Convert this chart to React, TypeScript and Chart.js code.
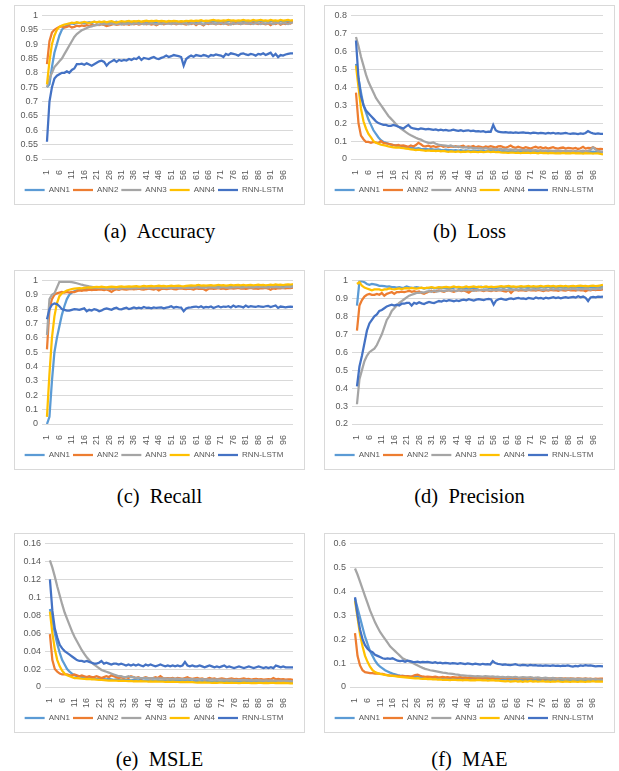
import React, { useEffect, useRef } from "react";
import { Chart, registerables } from "chart.js";

Chart.register(...registerables);

const epochs = [
  1, 2, 3, 4, 5, 6, 7, 8, 9, 10, 11, 12, 13, 14, 15, 16, 17, 18, 19, 20,
  21, 22, 23, 24, 25, 26, 27, 28, 29, 30, 31, 32, 33, 34, 35, 36, 37, 38, 39, 40,
  41, 42, 43, 44, 45, 46, 47, 48, 49, 50, 51, 52, 53, 54, 55, 56, 57, 58, 59, 60,
  61, 62, 63, 64, 65, 66, 67, 68, 69, 70, 71, 72, 73, 74, 75, 76, 77, 78, 79, 80,
  81, 82, 83, 84, 85, 86, 87, 88, 89, 90, 91, 92, 93, 94, 95, 96, 97, 98, 99, 100,
];
const xTickLabels = [1, 6, 11, 16, 21, 26, 31, 36, 41, 46, 51, 56, 61, 66, 71, 76, 81, 86, 91, 96];
const seriesNames = ["ANN1", "ANN2", "ANN3", "ANN4", "RNN-LSTM"];
const seriesColors = ["#5B9BD5", "#ED7D31", "#A5A5A5", "#FFC000", "#4472C4"];

const accTicks = [0.5, 0.55, 0.6, 0.65, 0.7, 0.75, 0.8, 0.85, 0.9, 0.95, 1];
const lossTicks = [0, 0.1, 0.2, 0.3, 0.4, 0.5, 0.6, 0.7, 0.8];
const recallTicks = [0, 0.1, 0.2, 0.3, 0.4, 0.5, 0.6, 0.7, 0.8, 0.9, 1];
const precTicks = [0.2, 0.3, 0.4, 0.5, 0.6, 0.7, 0.8, 0.9, 1];
const msleTicks = [0, 0.02, 0.04, 0.06, 0.08, 0.1, 0.12, 0.14, 0.16];
const maeTicks = [0, 0.1, 0.2, 0.3, 0.4, 0.5, 0.6];

// (a) Accuracy
const accANN1 = [
  0.75,0.76,0.82,0.87,0.90,0.93,0.95,0.96,0.965,0.97,
  0.972,0.97,0.975,0.973,0.975,0.972,0.974,0.976,0.973,0.978,
  0.975,0.977,0.974,0.976,0.975,0.973,0.977,0.976,0.978,0.974,
  0.977,0.975,0.978,0.976,0.977,0.975,0.978,0.977,0.976,0.979,
  0.977,0.978,0.976,0.978,0.977,0.979,0.976,0.978,0.977,0.979,
  0.978,0.976,0.979,0.977,0.978,0.976,0.979,0.977,0.978,0.98,
  0.977,0.979,0.978,0.98,0.977,0.979,0.978,0.98,0.978,0.979,
  0.977,0.98,0.978,0.979,0.981,0.978,0.98,0.979,0.978,0.98,
  0.979,0.98,0.978,0.981,0.979,0.98,0.982,0.979,0.98,0.978,
  0.981,0.979,0.98,0.978,0.981,0.979,0.98,0.977,0.979,0.98,
];
const accANN2 = [
  0.83,0.91,0.94,0.95,0.955,0.96,0.962,0.958,0.96,0.963,
  0.958,0.96,0.964,0.962,0.965,0.963,0.966,0.964,0.967,0.965,
  0.968,0.966,0.969,0.967,0.963,0.965,0.968,0.97,0.967,0.969,
  0.971,0.968,0.97,0.967,0.972,0.969,0.971,0.968,0.97,0.972,
  0.969,0.971,0.968,0.97,0.966,0.97,0.972,0.969,0.971,0.973,
  0.97,0.972,0.969,0.971,0.973,0.97,0.968,0.972,0.97,0.973,
  0.966,0.972,0.97,0.965,0.972,0.97,0.973,0.971,0.969,0.972,
  0.97,0.973,0.971,0.968,0.972,0.97,0.974,0.971,0.97,0.973,
  0.971,0.972,0.97,0.974,0.972,0.97,0.973,0.971,0.969,0.972,
  0.966,0.972,0.97,0.974,0.968,0.972,0.97,0.974,0.972,0.978,
];
const accANN3 = [
  0.75,0.78,0.80,0.82,0.83,0.84,0.85,0.865,0.88,0.895,
  0.91,0.925,0.935,0.942,0.948,0.952,0.956,0.96,0.962,0.965,
  0.966,0.968,0.97,0.969,0.971,0.968,0.972,0.97,0.969,0.972,
  0.968,0.971,0.97,0.972,0.969,0.971,0.973,0.97,0.972,0.969,
  0.972,0.97,0.973,0.971,0.969,0.972,0.97,0.973,0.971,0.972,
  0.97,0.973,0.971,0.972,0.97,0.973,0.971,0.969,0.972,0.974,
  0.97,0.973,0.971,0.968,0.972,0.974,0.971,0.973,0.97,0.972,
  0.974,0.97,0.973,0.971,0.968,0.973,0.971,0.974,0.97,0.972,
  0.974,0.971,0.973,0.97,0.974,0.972,0.97,0.973,0.971,0.974,
  0.972,0.97,0.973,0.975,0.971,0.974,0.972,0.97,0.974,0.976,
];
const accANN4 = [
  0.76,0.84,0.90,0.93,0.95,0.96,0.965,0.968,0.97,0.972,
  0.975,0.973,0.976,0.974,0.975,0.977,0.975,0.974,0.976,0.978,
  0.976,0.978,0.977,0.979,0.976,0.978,0.98,0.977,0.975,0.978,
  0.98,0.978,0.979,0.981,0.978,0.98,0.979,0.981,0.978,0.98,
  0.982,0.979,0.981,0.98,0.982,0.979,0.981,0.98,0.978,0.981,
  0.979,0.981,0.98,0.978,0.98,0.979,0.981,0.98,0.982,0.98,
  0.982,0.981,0.983,0.98,0.982,0.981,0.983,0.984,0.982,0.983,
  0.981,0.983,0.982,0.984,0.982,0.983,0.981,0.983,0.982,0.984,
  0.982,0.983,0.981,0.984,0.982,0.983,0.984,0.982,0.983,0.981,
  0.984,0.982,0.983,0.981,0.984,0.982,0.983,0.984,0.982,0.984,
];
const accRNN = [
  0.56,0.70,0.75,0.78,0.79,0.795,0.80,0.80,0.805,0.80,
  0.81,0.815,0.83,0.83,0.832,0.828,0.833,0.829,0.825,0.83,
  0.835,0.84,0.842,0.838,0.825,0.835,0.84,0.845,0.838,0.845,
  0.842,0.845,0.843,0.848,0.845,0.85,0.848,0.855,0.845,0.852,
  0.85,0.848,0.852,0.855,0.85,0.848,0.852,0.855,0.86,0.855,
  0.858,0.862,0.86,0.858,0.855,0.825,0.848,0.855,0.86,0.856,
  0.862,0.86,0.858,0.862,0.86,0.856,0.862,0.86,0.864,0.862,
  0.86,0.855,0.866,0.862,0.868,0.866,0.864,0.86,0.866,0.868,
  0.864,0.862,0.866,0.864,0.86,0.866,0.864,0.868,0.862,0.866,
  0.87,0.858,0.866,0.855,0.862,0.86,0.864,0.866,0.868,0.868,
];

// (b) Loss
const lossANN1 = [
  0.53,0.45,0.37,0.30,0.26,0.22,0.19,0.16,0.14,0.12,
  0.105,0.095,0.09,0.085,0.08,0.078,0.075,0.072,0.07,0.068,
  0.066,0.064,0.062,0.06,0.058,0.06,0.057,0.055,0.056,0.054,
  0.055,0.053,0.052,0.054,0.051,0.05,0.052,0.049,0.05,0.048,
  0.05,0.047,0.049,0.046,0.048,0.047,0.045,0.047,0.046,0.044,
  0.046,0.045,0.043,0.045,0.044,0.046,0.043,0.045,0.042,0.044,
  0.043,0.041,0.044,0.042,0.04,0.043,0.041,0.042,0.04,0.043,
  0.041,0.04,0.042,0.039,0.041,0.04,0.042,0.038,0.04,0.041,
  0.039,0.04,0.038,0.041,0.039,0.037,0.04,0.038,0.04,0.039,
  0.041,0.038,0.04,0.037,0.039,0.041,0.038,0.04,0.039,0.04,
];
const lossANN2 = [
  0.37,0.20,0.13,0.11,0.095,0.095,0.09,0.095,0.092,0.088,
  0.10,0.09,0.087,0.085,0.082,0.078,0.076,0.078,0.074,0.076,
  0.072,0.068,0.075,0.07,0.078,0.09,0.082,0.072,0.07,0.074,
  0.068,0.072,0.066,0.07,0.075,0.068,0.072,0.066,0.07,0.068,
  0.072,0.066,0.07,0.074,0.066,0.07,0.068,0.072,0.065,0.07,
  0.068,0.064,0.07,0.066,0.072,0.068,0.064,0.07,0.072,0.066,
  0.062,0.068,0.075,0.066,0.062,0.068,0.064,0.06,0.066,0.062,
  0.058,0.064,0.068,0.062,0.066,0.06,0.064,0.058,0.062,0.066,
  0.06,0.058,0.062,0.064,0.058,0.062,0.06,0.058,0.062,0.056,
  0.06,0.068,0.058,0.062,0.06,0.066,0.058,0.055,0.056,0.055,
];
const lossANN3 = [
  0.68,0.63,0.57,0.52,0.47,0.43,0.40,0.37,0.34,0.32,
  0.30,0.28,0.26,0.24,0.225,0.21,0.195,0.18,0.17,0.16,
  0.15,0.14,0.132,0.125,0.118,0.112,0.108,0.10,0.095,0.09,
  0.088,0.092,0.085,0.08,0.078,0.076,0.074,0.072,0.075,0.07,
  0.068,0.07,0.066,0.064,0.066,0.062,0.064,0.06,0.062,0.058,
  0.06,0.057,0.06,0.056,0.058,0.055,0.057,0.054,0.056,0.053,
  0.055,0.052,0.054,0.051,0.053,0.05,0.052,0.05,0.051,0.049,
  0.05,0.048,0.05,0.047,0.049,0.046,0.048,0.046,0.047,0.045,
  0.047,0.045,0.046,0.044,0.046,0.044,0.045,0.043,0.045,0.043,
  0.044,0.046,0.043,0.045,0.05,0.065,0.052,0.045,0.042,0.04,
];
const lossANN4 = [
  0.52,0.40,0.28,0.21,0.17,0.14,0.12,0.10,0.09,0.085,
  0.08,0.077,0.074,0.07,0.067,0.065,0.063,0.065,0.062,0.06,
  0.058,0.056,0.054,0.052,0.05,0.052,0.05,0.048,0.046,0.048,
  0.045,0.047,0.044,0.046,0.043,0.045,0.042,0.04,0.043,0.041,
  0.04,0.042,0.039,0.041,0.04,0.042,0.039,0.041,0.04,0.038,
  0.041,0.039,0.04,0.042,0.039,0.041,0.038,0.04,0.037,0.035,
  0.036,0.034,0.036,0.035,0.034,0.036,0.033,0.035,0.034,0.036,
  0.033,0.035,0.034,0.032,0.035,0.033,0.034,0.032,0.034,0.033,
  0.031,0.033,0.032,0.034,0.031,0.033,0.032,0.034,0.031,0.033,
  0.032,0.03,0.033,0.031,0.032,0.03,0.032,0.031,0.028,0.025,
];
const lossRNN = [
  0.66,0.45,0.35,0.30,0.27,0.255,0.24,0.225,0.21,0.20,
  0.195,0.19,0.19,0.185,0.185,0.19,0.185,0.18,0.175,0.17,
  0.18,0.19,0.175,0.17,0.168,0.165,0.17,0.168,0.165,0.168,
  0.165,0.162,0.165,0.16,0.163,0.16,0.162,0.158,0.16,0.163,
  0.16,0.157,0.16,0.155,0.158,0.16,0.155,0.158,0.154,0.155,
  0.152,0.155,0.15,0.153,0.152,0.19,0.16,0.152,0.15,0.148,
  0.15,0.147,0.148,0.146,0.148,0.145,0.147,0.148,0.145,0.146,
  0.143,0.147,0.145,0.143,0.146,0.144,0.142,0.145,0.143,0.146,
  0.142,0.144,0.141,0.143,0.145,0.142,0.14,0.143,0.141,0.139,
  0.142,0.14,0.145,0.155,0.148,0.143,0.14,0.142,0.14,0.14,
];

// (c) Recall
const recANN1 = [
  0.0,0.05,0.30,0.50,0.60,0.68,0.76,0.82,0.87,0.90,
  0.915,0.925,0.93,0.935,0.938,0.94,0.942,0.94,0.944,0.942,
  0.945,0.943,0.946,0.944,0.947,0.945,0.948,0.946,0.944,0.948,
  0.946,0.95,0.948,0.951,0.949,0.952,0.95,0.953,0.951,0.955,
  0.952,0.954,0.951,0.953,0.955,0.952,0.954,0.956,0.953,0.955,
  0.957,0.954,0.956,0.953,0.955,0.952,0.956,0.958,0.955,0.957,
  0.959,0.956,0.958,0.955,0.957,0.959,0.956,0.958,0.96,0.957,
  0.959,0.956,0.958,0.96,0.957,0.959,0.961,0.958,0.96,0.957,
  0.959,0.961,0.958,0.96,0.962,0.959,0.961,0.958,0.96,0.962,
  0.959,0.961,0.958,0.962,0.96,0.958,0.961,0.963,0.96,0.962,
];
const recANN2 = [
  0.52,0.80,0.87,0.90,0.91,0.915,0.92,0.915,0.92,0.915,
  0.92,0.918,0.925,0.93,0.928,0.932,0.93,0.935,0.933,0.936,
  0.934,0.937,0.935,0.933,0.937,0.93,0.92,0.932,0.938,0.935,
  0.94,0.937,0.935,0.939,0.941,0.937,0.94,0.942,0.938,0.936,
  0.94,0.942,0.939,0.936,0.942,0.93,0.94,0.943,0.939,0.941,
  0.944,0.94,0.938,0.942,0.945,0.941,0.939,0.943,0.94,0.936,
  0.944,0.941,0.943,0.94,0.93,0.942,0.945,0.941,0.943,0.946,
  0.942,0.945,0.94,0.943,0.946,0.942,0.944,0.947,0.943,0.945,
  0.941,0.944,0.947,0.943,0.945,0.942,0.946,0.944,0.947,0.943,
  0.935,0.945,0.942,0.946,0.944,0.947,0.945,0.948,0.946,0.95,
];
const recANN3 = [
  0.62,0.87,0.90,0.91,0.95,0.99,0.99,0.99,0.99,0.99,
  0.988,0.985,0.98,0.975,0.97,0.966,0.962,0.958,0.955,0.952,
  0.95,0.948,0.946,0.944,0.942,0.944,0.94,0.943,0.946,0.942,
  0.945,0.948,0.944,0.946,0.943,0.947,0.945,0.948,0.944,0.946,
  0.949,0.945,0.947,0.95,0.946,0.948,0.951,0.947,0.949,0.946,
  0.95,0.948,0.951,0.947,0.949,0.952,0.948,0.95,0.947,0.951,
  0.953,0.949,0.951,0.948,0.952,0.95,0.953,0.949,0.951,0.948,
  0.952,0.954,0.95,0.952,0.949,0.953,0.951,0.954,0.95,0.952,
  0.955,0.951,0.953,0.95,0.954,0.952,0.955,0.951,0.953,0.95,
  0.954,0.952,0.955,0.951,0.953,0.949,0.954,0.956,0.952,0.958,
];
const recANN4 = [
  0.05,0.35,0.60,0.75,0.84,0.89,0.91,0.92,0.93,0.935,
  0.94,0.943,0.945,0.947,0.945,0.948,0.95,0.952,0.95,0.953,
  0.955,0.953,0.956,0.954,0.952,0.955,0.957,0.955,0.953,0.956,
  0.958,0.955,0.957,0.959,0.956,0.958,0.96,0.957,0.959,0.962,
  0.958,0.96,0.962,0.959,0.961,0.963,0.96,0.962,0.959,0.961,
  0.963,0.96,0.962,0.964,0.961,0.959,0.962,0.964,0.966,0.963,
  0.965,0.968,0.964,0.966,0.963,0.965,0.967,0.964,0.966,0.968,
  0.965,0.967,0.964,0.966,0.968,0.965,0.967,0.969,0.966,0.968,
  0.965,0.967,0.969,0.966,0.968,0.97,0.967,0.969,0.966,0.968,
  0.97,0.967,0.972,0.969,0.971,0.968,0.97,0.972,0.97,0.975,
];
const recRNN = [
  0.73,0.80,0.83,0.84,0.835,0.82,0.80,0.795,0.79,0.79,
  0.795,0.80,0.798,0.795,0.80,0.805,0.785,0.795,0.79,0.80,
  0.795,0.785,0.79,0.80,0.805,0.80,0.795,0.805,0.81,0.80,
  0.798,0.805,0.81,0.80,0.805,0.812,0.805,0.81,0.806,0.815,
  0.808,0.81,0.805,0.812,0.808,0.81,0.812,0.806,0.81,0.814,
  0.82,0.81,0.815,0.812,0.81,0.785,0.805,0.81,0.812,0.815,
  0.818,0.812,0.82,0.81,0.816,0.812,0.818,0.808,0.815,0.82,
  0.812,0.818,0.815,0.82,0.812,0.825,0.815,0.82,0.818,0.812,
  0.825,0.815,0.82,0.818,0.815,0.82,0.818,0.815,0.82,0.822,
  0.815,0.82,0.825,0.808,0.818,0.815,0.812,0.815,0.818,0.815,
];

// (d) Precision
const precANN1 = [
  0.86,0.995,0.995,0.99,0.98,0.975,0.98,0.978,0.975,0.97,
  0.97,0.968,0.965,0.966,0.963,0.962,0.96,0.962,0.958,0.96,
  0.966,0.962,0.958,0.96,0.963,0.96,0.958,0.955,0.958,0.956,
  0.96,0.957,0.955,0.958,0.96,0.957,0.955,0.958,0.956,0.96,
  0.962,0.958,0.956,0.96,0.957,0.955,0.958,0.96,0.957,0.962,
  0.965,0.96,0.962,0.958,0.96,0.956,0.958,0.96,0.962,0.958,
  0.965,0.96,0.958,0.962,0.96,0.963,0.959,0.962,0.96,0.958,
  0.962,0.96,0.958,0.962,0.964,0.96,0.962,0.965,0.96,0.962,
  0.964,0.96,0.962,0.958,0.96,0.965,0.962,0.96,0.963,0.96,
  0.962,0.958,0.96,0.963,0.96,0.962,0.958,0.96,0.962,0.965,
];
const precANN2 = [
  0.72,0.86,0.89,0.91,0.92,0.925,0.92,0.92,0.925,0.92,
  0.93,0.915,0.925,0.93,0.935,0.925,0.935,0.935,0.937,0.935,
  0.938,0.942,0.936,0.94,0.935,0.938,0.93,0.925,0.932,0.938,
  0.942,0.935,0.94,0.944,0.94,0.936,0.942,0.945,0.94,0.936,
  0.942,0.946,0.94,0.944,0.938,0.932,0.942,0.946,0.943,0.947,
  0.944,0.941,0.946,0.943,0.94,0.945,0.942,0.946,0.944,0.94,
  0.938,0.945,0.93,0.944,0.947,0.943,0.946,0.944,0.942,0.947,
  0.944,0.946,0.943,0.947,0.944,0.941,0.946,0.943,0.947,0.944,
  0.946,0.942,0.947,0.945,0.943,0.948,0.944,0.946,0.943,0.947,
  0.944,0.946,0.94,0.947,0.945,0.948,0.946,0.949,0.947,0.95,
];
const precANN3 = [
  0.31,0.45,0.50,0.55,0.58,0.60,0.61,0.62,0.64,0.67,
  0.70,0.74,0.78,0.80,0.83,0.845,0.86,0.875,0.885,0.895,
  0.905,0.915,0.92,0.925,0.93,0.93,0.935,0.932,0.938,0.94,
  0.936,0.942,0.938,0.94,0.944,0.94,0.943,0.946,0.942,0.945,
  0.941,0.946,0.943,0.947,0.944,0.948,0.945,0.942,0.947,0.944,
  0.948,0.945,0.949,0.946,0.944,0.948,0.945,0.949,0.946,0.95,
  0.947,0.944,0.949,0.946,0.95,0.947,0.951,0.948,0.945,0.95,
  0.947,0.951,0.948,0.952,0.949,0.946,0.951,0.948,0.952,0.949,
  0.953,0.95,0.947,0.952,0.949,0.953,0.95,0.954,0.951,0.948,
  0.953,0.95,0.954,0.951,0.948,0.953,0.95,0.955,0.952,0.96,
];
const precANN4 = [
  0.98,0.99,0.97,0.96,0.955,0.95,0.945,0.95,0.95,0.95,
  0.945,0.95,0.95,0.955,0.952,0.95,0.953,0.955,0.952,0.955,
  0.957,0.955,0.958,0.956,0.954,0.957,0.959,0.956,0.958,0.96,
  0.962,0.958,0.96,0.963,0.96,0.962,0.964,0.961,0.963,0.966,
  0.962,0.964,0.961,0.963,0.966,0.962,0.964,0.966,0.963,0.965,
  0.962,0.964,0.967,0.963,0.965,0.962,0.964,0.966,0.968,0.965,
  0.967,0.969,0.965,0.967,0.964,0.966,0.968,0.965,0.967,0.969,
  0.966,0.968,0.965,0.967,0.969,0.966,0.968,0.97,0.967,0.969,
  0.966,0.968,0.97,0.967,0.969,0.966,0.968,0.97,0.967,0.969,
  0.971,0.968,0.97,0.967,0.969,0.971,0.968,0.97,0.972,0.975,
];
const precRNN = [
  0.41,0.52,0.58,0.65,0.72,0.76,0.78,0.80,0.81,0.83,
  0.835,0.845,0.855,0.86,0.865,0.86,0.865,0.86,0.87,0.87,
  0.875,0.875,0.86,0.875,0.87,0.878,0.872,0.868,0.875,0.88,
  0.876,0.874,0.88,0.885,0.882,0.888,0.885,0.89,0.887,0.884,
  0.888,0.885,0.89,0.893,0.889,0.895,0.891,0.888,0.893,0.896,
  0.893,0.89,0.895,0.897,0.894,0.865,0.888,0.895,0.898,0.894,
  0.892,0.897,0.9,0.896,0.9,0.902,0.898,0.9,0.896,0.902,
  0.9,0.897,0.905,0.9,0.903,0.898,0.904,0.9,0.903,0.906,
  0.902,0.905,0.9,0.904,0.907,0.903,0.906,0.908,0.904,0.912,
  0.906,0.91,0.903,0.885,0.905,0.908,0.906,0.91,0.908,0.91,
];

// (e) MSLE
const msleANN1 = [
  0.087,0.075,0.06,0.048,0.038,0.03,0.025,0.02,0.017,0.015,
  0.013,0.012,0.012,0.011,0.011,0.01,0.01,0.01,0.0095,0.009,
  0.009,0.009,0.0088,0.0085,0.009,0.0085,0.008,0.0085,0.008,0.0082,
  0.008,0.0078,0.008,0.0075,0.0078,0.0076,0.0074,0.0078,0.0072,0.0075,
  0.0073,0.007,0.0074,0.0071,0.0073,0.0069,0.0072,0.007,0.0068,0.0071,
  0.0069,0.0066,0.007,0.0067,0.0069,0.0065,0.0068,0.0066,0.0064,0.0067,
  0.0065,0.0063,0.0066,0.0062,0.0065,0.0063,0.0061,0.0064,0.0062,0.006,
  0.0063,0.0061,0.0059,0.0062,0.006,0.0058,0.0061,0.0059,0.0057,0.006,
  0.0058,0.0056,0.0059,0.0055,0.0058,0.0054,0.0057,0.0055,0.0058,0.0056,
  0.0054,0.0057,0.0055,0.0058,0.0056,0.0054,0.0057,0.0055,0.0058,0.006,
];
const msleANN2 = [
  0.059,0.03,0.02,0.017,0.015,0.014,0.014,0.014,0.013,0.013,
  0.014,0.013,0.012,0.013,0.012,0.011,0.012,0.011,0.011,0.012,
  0.011,0.01,0.011,0.012,0.011,0.013,0.012,0.011,0.01,0.011,
  0.01,0.011,0.01,0.012,0.011,0.01,0.011,0.0095,0.01,0.011,
  0.01,0.0095,0.01,0.011,0.01,0.012,0.01,0.0095,0.01,0.0095,
  0.01,0.009,0.01,0.0095,0.009,0.01,0.011,0.0095,0.009,0.0095,
  0.01,0.009,0.0095,0.0085,0.009,0.01,0.009,0.0095,0.0085,0.009,
  0.0095,0.009,0.0085,0.009,0.0095,0.0088,0.009,0.0085,0.009,0.0095,
  0.0088,0.009,0.0082,0.0088,0.009,0.0085,0.0088,0.0082,0.0086,0.0088,
  0.0084,0.01,0.0086,0.009,0.0084,0.0088,0.0082,0.0086,0.0084,0.008,
];
const msleANN3 = [
  0.141,0.133,0.123,0.112,0.102,0.092,0.083,0.076,0.069,0.062,
  0.056,0.051,0.046,0.041,0.037,0.033,0.03,0.027,0.025,0.023,
  0.021,0.019,0.018,0.017,0.016,0.015,0.014,0.013,0.012,0.012,
  0.011,0.011,0.012,0.011,0.011,0.01,0.0105,0.01,0.0098,0.0102,
  0.0098,0.0095,0.0098,0.0094,0.0096,0.0093,0.0095,0.0092,0.0094,0.009,
  0.0093,0.009,0.0092,0.0089,0.0091,0.0088,0.009,0.0087,0.0089,0.0086,
  0.0088,0.0085,0.0087,0.0084,0.0086,0.0083,0.0085,0.0082,0.0084,0.0081,
  0.0083,0.008,0.0082,0.0079,0.0081,0.0078,0.008,0.0077,0.0079,0.0076,
  0.0078,0.0075,0.0077,0.0074,0.0076,0.0073,0.0075,0.0072,0.0074,0.0071,
  0.0073,0.007,0.0072,0.0069,0.0071,0.0068,0.007,0.0067,0.0065,0.0063,
];
const msleANN4 = [
  0.084,0.06,0.042,0.03,0.023,0.018,0.015,0.013,0.012,0.011,
  0.01,0.01,0.0095,0.0092,0.009,0.0088,0.009,0.0086,0.0084,0.0082,
  0.008,0.0078,0.0076,0.0074,0.0072,0.0075,0.007,0.0072,0.0068,0.007,
  0.0067,0.0069,0.0065,0.0067,0.0064,0.0066,0.0063,0.0065,0.0062,0.0064,
  0.0061,0.0063,0.006,0.0062,0.0059,0.0061,0.006,0.0058,0.006,0.0057,
  0.0059,0.0056,0.0058,0.0055,0.0057,0.0054,0.0056,0.0053,0.0055,0.0052,
  0.005,0.0052,0.0049,0.0051,0.0048,0.005,0.0047,0.0049,0.0046,0.0048,
  0.005,0.0047,0.0049,0.0046,0.0048,0.0045,0.0047,0.0044,0.0046,0.0048,
  0.0045,0.0047,0.0044,0.0046,0.0043,0.0045,0.0047,0.0044,0.0046,0.0043,
  0.0045,0.0047,0.0044,0.0046,0.0043,0.0045,0.0042,0.0044,0.0041,0.004,
];
const msleRNN = [
  0.12,0.085,0.065,0.055,0.047,0.043,0.04,0.038,0.036,0.034,
  0.032,0.03,0.029,0.029,0.028,0.029,0.028,0.027,0.026,0.026,
  0.027,0.029,0.026,0.027,0.026,0.025,0.026,0.026,0.025,0.026,
  0.025,0.024,0.025,0.024,0.025,0.024,0.025,0.024,0.023,0.025,
  0.024,0.025,0.024,0.023,0.024,0.025,0.024,0.023,0.024,0.023,
  0.024,0.023,0.024,0.023,0.024,0.028,0.024,0.023,0.024,0.023,
  0.023,0.024,0.023,0.022,0.023,0.024,0.023,0.022,0.023,0.022,
  0.023,0.024,0.022,0.023,0.022,0.021,0.022,0.023,0.022,0.021,
  0.022,0.023,0.022,0.021,0.022,0.023,0.022,0.021,0.022,0.021,
  0.022,0.021,0.024,0.023,0.022,0.023,0.022,0.022,0.022,0.022,
];

// (f) MAE
const maeANN1 = [
  0.37,0.33,0.29,0.25,0.21,0.18,0.15,0.13,0.11,0.095,
  0.085,0.078,0.07,0.065,0.06,0.056,0.053,0.05,0.048,0.047,
  0.045,0.044,0.043,0.042,0.041,0.042,0.04,0.041,0.039,0.04,
  0.038,0.039,0.037,0.038,0.036,0.037,0.036,0.035,0.037,0.035,
  0.036,0.034,0.035,0.034,0.036,0.034,0.033,0.035,0.034,0.033,
  0.034,0.032,0.034,0.033,0.031,0.033,0.032,0.034,0.032,0.031,
  0.033,0.03,0.032,0.031,0.03,0.032,0.031,0.029,0.031,0.03,
  0.032,0.03,0.029,0.031,0.03,0.028,0.03,0.029,0.031,0.029,
  0.028,0.03,0.029,0.028,0.03,0.029,0.027,0.029,0.028,0.03,
  0.028,0.027,0.029,0.028,0.03,0.028,0.027,0.029,0.03,0.03,
];
const maeANN2 = [
  0.225,0.13,0.09,0.07,0.062,0.06,0.058,0.058,0.056,0.057,
  0.055,0.055,0.052,0.05,0.048,0.048,0.047,0.046,0.045,0.046,
  0.044,0.045,0.043,0.046,0.05,0.052,0.047,0.044,0.042,0.043,
  0.042,0.041,0.043,0.041,0.04,0.042,0.04,0.041,0.039,0.041,
  0.04,0.039,0.041,0.039,0.04,0.038,0.04,0.039,0.038,0.04,
  0.039,0.038,0.04,0.038,0.039,0.037,0.039,0.038,0.037,0.039,
  0.038,0.036,0.039,0.037,0.038,0.036,0.038,0.037,0.036,0.038,
  0.037,0.036,0.038,0.036,0.037,0.035,0.037,0.036,0.035,0.037,
  0.036,0.035,0.037,0.035,0.036,0.034,0.036,0.035,0.034,0.036,
  0.035,0.034,0.036,0.034,0.035,0.033,0.035,0.034,0.035,0.035,
];
const maeANN3 = [
  0.495,0.47,0.44,0.41,0.38,0.35,0.32,0.295,0.27,0.25,
  0.23,0.215,0.2,0.185,0.17,0.16,0.15,0.14,0.13,0.12,
  0.115,0.11,0.105,0.1,0.095,0.09,0.085,0.08,0.076,0.073,
  0.07,0.068,0.066,0.064,0.062,0.06,0.059,0.057,0.056,0.055,
  0.053,0.052,0.05,0.049,0.048,0.047,0.046,0.045,0.044,0.045,
  0.044,0.043,0.045,0.044,0.043,0.044,0.042,0.043,0.041,0.042,
  0.04,0.042,0.041,0.04,0.042,0.04,0.039,0.041,0.04,0.039,
  0.041,0.039,0.038,0.04,0.038,0.037,0.039,0.037,0.036,0.038,
  0.036,0.035,0.037,0.035,0.034,0.036,0.034,0.035,0.033,0.035,
  0.034,0.033,0.035,0.033,0.034,0.032,0.033,0.031,0.032,0.03,
];
const maeANN4 = [
  0.36,0.29,0.22,0.17,0.13,0.105,0.085,0.07,0.062,0.058,
  0.055,0.053,0.051,0.049,0.047,0.046,0.045,0.043,0.042,0.041,
  0.04,0.039,0.038,0.037,0.036,0.037,0.035,0.034,0.035,0.033,
  0.034,0.032,0.033,0.031,0.032,0.03,0.031,0.03,0.029,0.031,
  0.03,0.029,0.03,0.028,0.03,0.029,0.028,0.029,0.028,0.03,
  0.029,0.028,0.029,0.027,0.028,0.029,0.027,0.028,0.026,0.025,
  0.024,0.025,0.023,0.024,0.025,0.023,0.024,0.022,0.024,0.023,
  0.025,0.023,0.024,0.022,0.023,0.024,0.022,0.023,0.021,0.023,
  0.022,0.024,0.022,0.021,0.023,0.022,0.021,0.023,0.022,0.021,
  0.023,0.022,0.021,0.023,0.022,0.024,0.022,0.023,0.022,0.022,
];
const maeRNN = [
  0.375,0.3,0.24,0.2,0.175,0.16,0.15,0.145,0.135,0.13,
  0.125,0.12,0.118,0.12,0.118,0.12,0.115,0.11,0.108,0.11,
  0.105,0.11,0.108,0.105,0.104,0.106,0.103,0.105,0.104,0.105,
  0.103,0.101,0.104,0.1,0.102,0.099,0.101,0.1,0.098,0.1,
  0.099,0.097,0.1,0.098,0.096,0.099,0.097,0.095,0.098,0.096,
  0.094,0.097,0.095,0.096,0.094,0.108,0.1,0.097,0.095,0.093,
  0.094,0.092,0.091,0.093,0.095,0.092,0.09,0.092,0.091,0.089,
  0.092,0.09,0.091,0.089,0.09,0.088,0.09,0.089,0.088,0.09,
  0.088,0.089,0.087,0.089,0.088,0.09,0.087,0.085,0.088,0.086,
  0.09,0.088,0.091,0.089,0.09,0.088,0.086,0.087,0.087,0.086,
];

type PanelSpec = {
  caption: string;
  series: number[][];
  yTicks: number[];
  left: number;
  top: number;
  plotLeft: number;
};

const panels: PanelSpec[] = [
  { caption: "(a)\u00a0\u00a0Accuracy", series: [accANN1, accANN2, accANN3, accANN4, accRNN], yTicks: accTicks, left: 14, top: 5, plotLeft: 27 },
  { caption: "(b)\u00a0\u00a0Loss", series: [lossANN1, lossANN2, lossANN3, lossANN4, lossRNN], yTicks: lossTicks, left: 324, top: 5, plotLeft: 26 },
  { caption: "(c)\u00a0\u00a0Recall", series: [recANN1, recANN2, recANN3, recANN4, recRNN], yTicks: recallTicks, left: 14, top: 270, plotLeft: 27 },
  { caption: "(d)\u00a0\u00a0Precision", series: [precANN1, precANN2, precANN3, precANN4, precRNN], yTicks: precTicks, left: 324, top: 270, plotLeft: 27 },
  { caption: "(e)\u00a0\u00a0MSLE", series: [msleANN1, msleANN2, msleANN3, msleANN4, msleRNN], yTicks: msleTicks, left: 14, top: 533, plotLeft: 30 },
  { caption: "(f)\u00a0\u00a0MAE", series: [maeANN1, maeANN2, maeANN3, maeANN4, maeRNN], yTicks: maeTicks, left: 324, top: 533, plotLeft: 25 },
];

const CW = 289;
const CH = 198;
const axisFont = { family: "'Liberation Sans', Arial, sans-serif", size: 9 };
const textColor = "#595959";

function Panel({ p }: { p: PanelSpec }) {
  const ref = useRef<HTMLCanvasElement>(null);
  useEffect(() => {
    const chart = new Chart(ref.current as HTMLCanvasElement, {
      type: "line",
      data: {
        labels: epochs,
        datasets: p.series.map((d, i) => ({
          label: seriesNames[i],
          data: d,
          borderColor: seriesColors[i],
          backgroundColor: seriesColors[i],
          borderWidth: 2.25,
          pointRadius: 0,
          tension: 0,
          fill: false,
          order: 4 - i,
        })),
      },
      options: {
        animation: false,
        responsive: false,
        maintainAspectRatio: false,
        events: [],
        layout: { padding: { top: 9, right: 11, bottom: 0, left: 0 } },
        scales: {
          x: {
            type: "linear",
            min: -1,
            max: 100,
            grid: { display: false },
            border: { display: false },
            afterBuildTicks: (s: any) => {
              s.ticks = xTickLabels.map((v) => ({ value: v }));
            },
            afterFit: (s: any) => {
              s.height = 24;
            },
            ticks: {
              autoSkip: false,
              minRotation: 90,
              maxRotation: 90,
              padding: 3,
              font: axisFont,
              color: textColor,
              callback: (v: any) => String(v),
            },
          },
          y: {
            min: p.yTicks[0],
            max: p.yTicks[p.yTicks.length - 1],
            afterBuildTicks: (s: any) => {
              s.ticks = p.yTicks.map((v) => ({ value: v }));
            },
            afterFit: (s: any) => {
              s.width = p.plotLeft;
            },
            grid: { color: "#d9d9d9", drawTicks: false, lineWidth: 1 },
            border: { display: false },
            ticks: {
              padding: 4,
              font: axisFont,
              color: textColor,
              callback: (v: any) => String(Number(Number(v).toFixed(4))),
            },
          },
        },
        plugins: {
          legend: {
            position: "bottom",
            labels: {
              usePointStyle: true,
              pointStyle: "line",
              pointStyleWidth: 20,
              padding: 3,
              font: { family: "'Liberation Sans', Arial, sans-serif", size: 8 },
              color: textColor,
              sort: (a: any, b: any) => a.datasetIndex - b.datasetIndex,
            },
          },
          tooltip: { enabled: false },
        },
      },
    } as any);
    return () => chart.destroy();
  }, [p]);

  return (
    <>
      <div
        style={{
          position: "absolute",
          left: p.left,
          top: p.top,
          width: CW,
          height: CH,
          border: "1px solid #d9d9d9",
          background: "#fff",
        }}
      >
        <canvas ref={ref} width={CW} height={CH} style={{ display: "block", width: CW, height: CH }} />
      </div>
      <div
        style={{
          position: "absolute",
          left: p.left,
          top: p.top + 214,
          width: CW + 2,
          height: 24,
          lineHeight: "24px",
          textAlign: "center",
          fontFamily: "'Liberation Serif', 'Times New Roman', serif",
          fontSize: 20.5,
          color: "#000",
          whiteSpace: "nowrap",
        }}
      >
        {p.caption}
      </div>
    </>
  );
}

export default function App() {
  return (
    <div>
      {panels.map((p, i) => (
        <Panel key={i} p={p} />
      ))}
    </div>
  );
}
